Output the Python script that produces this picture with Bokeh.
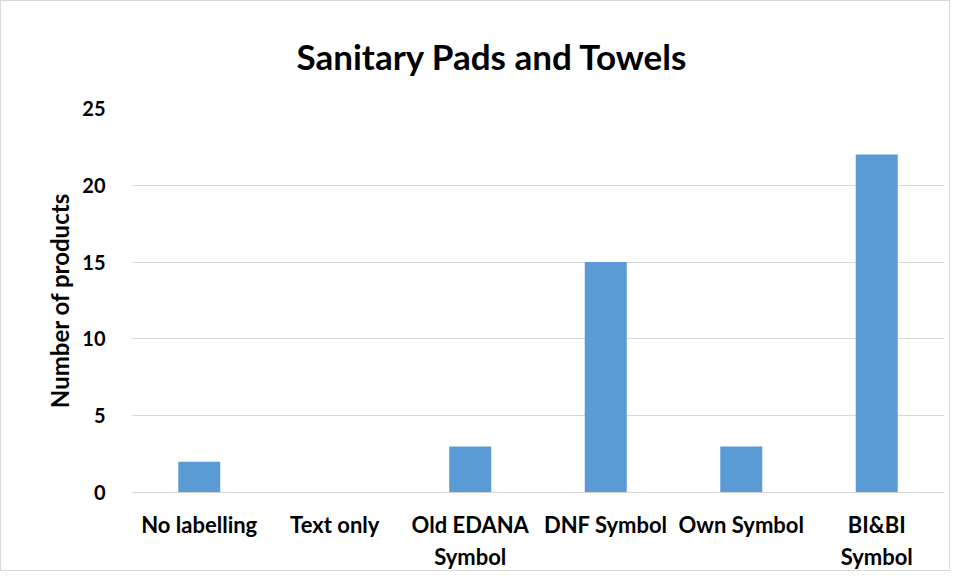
from bokeh.plotting import figure
from bokeh.models import ColumnDataSource, FixedTicker, Range1d
from bokeh.embed import file_html
from bokeh.resources import INLINE

categories = ["No labelling", "Text only", "Old EDANA\nSymbol", "DNF Symbol", "Own Symbol", "BI&BI\nSymbol"]
values = [2, 0, 3, 15, 3, 22]
y_ticks = [0, 5, 10, 15, 20, 25]

xs = list(range(len(categories)))
src = ColumnDataSource(data=dict(x=xs, top=values))

FONT = "Lato"
p = figure(width=950, height=571, output_backend="svg", toolbar_location=None,
           x_range=Range1d(-0.5, len(categories) - 0.5), y_range=Range1d(0, 25),
           min_border_left=130, min_border_right=7, min_border_top=107, min_border_bottom=78)
p.vbar(x="x", top="top", width=0.31, source=src, color="#5B9BD5", line_color=None)

p.title.text = "Sanitary Pads and Towels"
p.title.align = "left"
p.title.offset = 165
p.title.text_font = FONT
p.title.text_font_size = "35px"
p.title.text_font_style = "bold"
p.title.text_color = "#000000"
p.title.standoff = 63

p.outline_line_color = None
p.styles = {"border": "1px solid #d9d9d9"}

p.xgrid.grid_line_color = None
p.ygrid.grid_line_color = "#D9D9D9"
p.ygrid.ticker = FixedTicker(ticks=y_ticks)

p.yaxis.ticker = FixedTicker(ticks=y_ticks)
p.yaxis.axis_line_color = None
p.yaxis.major_tick_line_color = None
p.yaxis.minor_tick_line_color = None
p.yaxis.major_label_text_font = FONT
p.yaxis.major_label_text_font_size = "20px"
p.yaxis.major_label_text_font_style = "bold"
p.yaxis.major_label_text_color = "#000000"
p.yaxis.major_label_standoff = 20
p.yaxis.axis_label = "Number of products"
p.yaxis.axis_label_text_font = FONT
p.yaxis.axis_label_text_font_size = "24px"
p.yaxis.axis_label_text_font_style = "bold"
p.yaxis.axis_label_text_color = "#000000"
p.yaxis.axis_label_standoff = 5

p.xaxis.ticker = FixedTicker(ticks=xs)
p.xaxis.major_label_overrides = {i: c for i, c in enumerate(categories)}
p.xaxis.axis_line_color = "#D9D9D9"
p.xaxis.major_tick_line_color = None
p.xaxis.minor_tick_line_color = None
p.xaxis.major_label_text_font = FONT
p.xaxis.major_label_text_font_size = "22px"
p.xaxis.major_label_text_font_style = "bold"
p.xaxis.major_label_text_color = "#000000"
p.xaxis.major_label_standoff = 12

open("out.html", "w").write(file_html(p, INLINE))
